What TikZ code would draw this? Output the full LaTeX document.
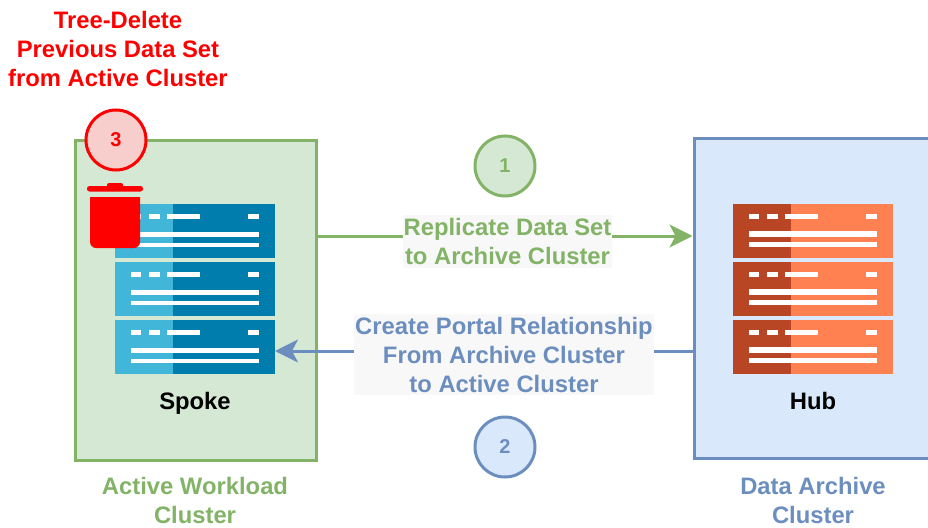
\documentclass[tikz,border=0pt]{standalone}
\usepackage{fontspec}
\setmainfont{Liberation Sans}
\usetikzlibrary{positioning,arrows.meta}
\definecolor{grnline}{HTML}{82B366}
\definecolor{grnfill}{HTML}{D5E8D4}
\definecolor{bluline}{HTML}{6C8EBF}
\definecolor{blufill}{HTML}{DAE8FC}
\definecolor{redfill}{HTML}{F8CECC}
\definecolor{lblfill}{HTML}{F8F8F8}
\definecolor{spokelt}{HTML}{41B6D8}
\definecolor{spokedk}{HTML}{007DAC}
\definecolor{hublt}{HTML}{FF8050}
\definecolor{hubdk}{HTML}{B84524}
% one server of a rack: name, colour of its left part
\newcommand{\srvdetail}[2]{
  \fill[#2] (#1.north west) rectangle ([shift={(57.5,54)}]#1.north west);
  \foreach \xa/\xb in {16/26,34/45,52/85,133/144}
    \fill[white] ([shift={(\xa,10)}]#1.north west) rectangle ([shift={(\xb,15)}]#1.north west);
  \fill[white] ([shift={(16,27.5)}]#1.north west) rectangle ([shift={(144,33)}]#1.north west);
  \fill[white] ([shift={(16,38.5)}]#1.north west) rectangle ([shift={(144,43)}]#1.north west);
}
\begin{document}
\begin{tikzpicture}[
    x=1pt,y=-1pt,>={Stealth[length=23pt,width=23pt,inset=6pt]},
    txt/.style={font=\fontsize{23.8}{29}\selectfont\bfseries,align=center},
    lbl/.style={txt,fill=lblfill,inner xsep=1pt,inner ysep=3pt},
    cluster/.style={rectangle,line width=3pt,minimum height=320pt},
    srv/.style={rectangle,minimum width=160pt,minimum height=54pt,inner sep=0pt,outer sep=0pt},
    num/.style={circle,line width=3pt,minimum size=60pt,inner sep=0pt,font=\fontsize{20}{24}\selectfont\bfseries},
    conn/.style={line width=3pt,->}]
    \useasboundingbox (0,0) rectangle (928,527);
    \begin{scope}
    \clip (0,0) rectangle (928,527);

    \node[cluster,draw=grnline,fill=grnfill,minimum width=241pt] (spoke) at (195.5,300) {};
    \node[cluster,draw=bluline,fill=blufill,minimum width=260pt] (hub) at (824,298) {};
    \end{scope}

    \node[srv,fill=spokedk] (S1) at (195,231) {};
    \node[srv,fill=spokedk] (S2) [below=4pt of S1] {};
    \node[srv,fill=spokedk] (S3) [below=4pt of S2] {};
    \node[srv,fill=hublt] (H1) at (813,230.5) {};
    \node[srv,fill=hublt] (H2) [below=4pt of H1] {};
    \node[srv,fill=hublt] (H3) [below=4pt of H2] {};
    \srvdetail{S1}{spokelt}
    \srvdetail{S2}{spokelt}
    \srvdetail{S3}{spokelt}
    \srvdetail{H1}{hubdk}
    \srvdetail{H2}{hubdk}
    \srvdetail{H3}{hubdk}

    \node[txt] (spokelbl) [below=15pt of S3] {Spoke};
    \node[txt] (hublbl) [below=15pt of H3] {Hub};
    \node[txt,text=grnline] (activelbl) at (195,500) {Active Workload\\Cluster};
    \node[txt,text=bluline] (archivelbl) at (813,500) {Data Archive\\Cluster};

    % arrows
    \coordinate (rep) at (505,236);
    \coordinate (por) at (505,351);
    \draw[conn,draw=grnline,-{Stealth[length=23pt,width=23pt,inset=6pt,fill=grnline]}] (spoke.east |- rep) -- (hub.west |- rep);
    \draw[conn,draw=bluline] (hub.west |- por) -- (S3.east |- por);
    \node[lbl,text=grnline] (replbl) at (507.5,241.5) {Replicate Data Set\\to Archive Cluster};
    \node[lbl,text=bluline] (porlbl) at (504,354.5) {Create Portal Relationship\\From Archive Cluster\\to Active Cluster};

    \node[num,draw=grnline,fill=grnfill,text=grnline] (N1) at (505,166) {1};
    \node[num,draw=bluline,fill=blufill,text=bluline] (N2) at (505,447) {2};
    \node[num,draw=red,fill=redfill,text=red] (N3) at (116,140) {3};
    \node[txt,text=red] (dellbl) at (118,49) {Tree-Delete\\Previous Data Set\\from Active Cluster};

    % trash can
    \fill[red,rounded corners=2.5pt] (87,186) rectangle (143,191.5);
    \fill[red,rounded corners=2pt] (107,183) rectangle (123,189);
    \fill[red] (90,197) -- (140,197) -- (140,242) arc[start angle=0,end angle=90,x radius=6pt,y radius=-6pt] -- (96,248) arc[start angle=90,end angle=180,x radius=6pt,y radius=-6pt] -- cycle;
\end{tikzpicture}
\end{document}
